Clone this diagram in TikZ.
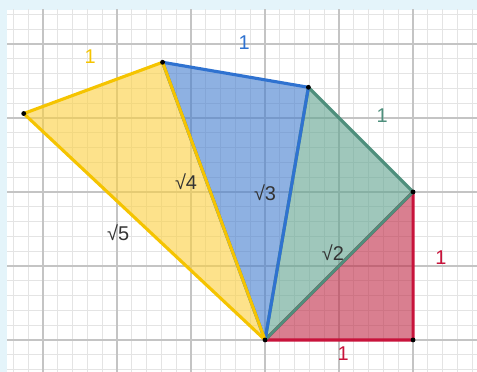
\documentclass[tikz,border=0pt]{standalone}
\usepackage{fontspec}
\setmainfont{Liberation Sans}

\definecolor{panelblue}{HTML}{E4F4FA}
\definecolor{minorline}{HTML}{E4E4E4}
\definecolor{majorline}{HTML}{C4C4C4}
\definecolor{redtri}{HTML}{C8133B}
\definecolor{greentri}{HTML}{4E8F7C}
\definecolor{bluetri}{HTML}{2F72D0}
\definecolor{yellowtri}{HTML}{F5C400}
\definecolor{redfill}{HTML}{C02B46}
\definecolor{greenfill}{HTML}{5FA38F}
\definecolor{bluefill}{HTML}{447DCF}
\definecolor{yellowfill}{HTML}{FCD03F}
\definecolor{rootgray}{HTML}{333333}

\begin{document}
\begin{tikzpicture}[
    x=3cm, y=3cm,
    line cap=round,
    line join=round,
    minorgrid/.style={draw=minorline,line width=0.5pt},
    majorgrid/.style={draw=majorline,line width=0.8pt},
    side/.style={line width=1.8pt},
    shade/.style={fill opacity=0.6},
    lbl/.style={font=\fontsize{11.5}{13}\selectfont,inner sep=0pt}
]

% -------------------------------------------------
% Рамка и сетка
% -------------------------------------------------

\useasboundingbox (-1.791,-0.216) rectangle (1.432,2.297);
\fill[panelblue] (-1.791,-0.216) rectangle (1.432,2.297);
\fill[white] (-1.743,-0.216) rectangle (1.432,2.230);

\begin{scope}
\clip (-1.743,-0.216) rectangle (1.432,2.230);
\draw[minorgrid] (-1.8,-0.3) grid[step=0.1] (1.5,2.3);
\draw[majorgrid] (-1.8,-0.3) grid[step=0.5] (1.5,2.3);
\end{scope}

% -------------------------------------------------
% Вершины спирали
% -------------------------------------------------

\coordinate (O) at (0,0);
\coordinate (A) at (1,0);
\coordinate (B) at (1,1);
\coordinate (C) at (80.26:1.7321);
\coordinate (D) at (110.26:2);
\coordinate (E) at (136.83:2.2361);

% -------------------------------------------------
% Заливка треугольников
% -------------------------------------------------

\fill[shade,redfill]    (O)--(A)--(B)--cycle;
\fill[shade,greenfill]  (O)--(B)--(C)--cycle;
\fill[shade,bluefill]   (O)--(C)--(D)--cycle;
\fill[shade,yellowfill] (O)--(D)--(E)--cycle;

% -------------------------------------------------
% Стороны треугольников
% -------------------------------------------------

\draw[side,redtri]    (O)--(A)--(B)--cycle;
\draw[side,greentri]  (O)--(B)--(C)--cycle;
\draw[side,bluetri]   (O)--(C)--(D)--cycle;
\draw[side,yellowtri] (O)--(D)--(E)--cycle;

% -------------------------------------------------
% Точки
% -------------------------------------------------

\fill (O) circle (1.4pt);
\fill (A) circle (1.4pt);
\fill (B) circle (1.4pt);
\fill (C) circle (1.4pt);
\fill (D) circle (1.4pt);
\fill (E) circle (1.4pt);

% -------------------------------------------------
% Подписи
% -------------------------------------------------

\node[lbl,text=redtri]    (oa) at (0.527,-0.095) {1};
\node[lbl,text=redtri]    (ab) at (1.189,0.554)  {1};
\node[lbl,text=greentri]  (bc) at (0.791,1.514)  {1};
\node[lbl,text=bluetri]   (cd) at (-0.142,2.007) {1};
\node[lbl,text=yellowtri] (de) at (-1.182,1.912) {1};

\node[lbl,text=rootgray] (ob) at (0.459,0.588)  {√2};
\node[lbl,text=rootgray] (oc) at (0.0,0.993)    {√3};
\node[lbl,text=rootgray] (od) at (-0.534,1.068) {√4};
\node[lbl,text=rootgray] (oe) at (-0.993,0.723) {√5};

\end{tikzpicture}
\end{document}
